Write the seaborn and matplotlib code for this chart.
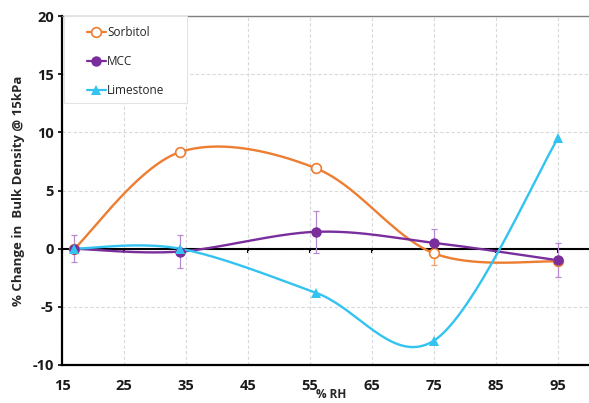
import numpy as np
import pandas as pd
import matplotlib
matplotlib.use("Agg")
import matplotlib.pyplot as plt
from matplotlib.patches import Rectangle
import seaborn as sns

# ---- data ----
rh = [17, 34, 56, 75, 95]
sorbitol = [0.0, 8.3, 6.9, -0.4, -1.1]
sorbitol_err = [0.0, 0.0, 0.0, 1.0, 0.3]
mcc = [0.0, -0.25, 1.45, 0.5, -1.0]
mcc_err = [1.15, 1.4, 1.8, 1.2, 1.45]
limestone = [0.0, 0.0, -3.8, -7.9, 9.5]
limestone_err = [0.0, 0.0, 0.0, 0.0, 0.0]
series_names = ["Sorbitol", "MCC", "Limestone"]
xticks = [15, 25, 35, 45, 55, 65, 75, 85, 95]
yticks = [-10, -5, 0, 5, 10, 15, 20]

colors = {"Sorbitol": "#ED7D31", "MCC": "#7A2E9C", "Limestone": "#33C3F0"}
errcolors = {"Sorbitol": "#F0A070", "MCC": "#B58AD0", "Limestone": "#33C3F0"}


def excel_smooth(x, y, n=40):
    pts = np.column_stack([x, y]).astype(float)
    P = np.vstack([pts[0], pts, pts[-1]])
    segs = []
    for i in range(1, len(P) - 2):
        p0, p1, p2, p3 = P[i - 1], P[i], P[i + 1], P[i + 2]
        c1 = p1 + (p2 - p0) / 6.0
        c2 = p2 - (p3 - p1) / 6.0
        t = np.linspace(0, 1, n)[:, None]
        seg = (1 - t) ** 3 * p1 + 3 * (1 - t) ** 2 * t * c1 + 3 * (1 - t) * t ** 2 * c2 + t ** 3 * p2
        segs.append(seg if i == 1 else seg[1:])
    s = np.vstack(segs)
    return s[:, 0], s[:, 1]


sns.set_theme(style="white")
plt.rcParams["font.family"] = ["Open Sans", "DejaVu Sans"]
plt.rcParams["axes.unicode_minus"] = False

fig = plt.figure(figsize=(5.89, 4.03), dpi=100)
ax = fig.add_axes([62 / 589, 1 - 365 / 403, 1 - 62 / 589, (365 - 16) / 403])

ax.set_xlim(15, 100)
ax.set_ylim(-10, 20)
ax.set_xticks(xticks)
ax.set_yticks(yticks)
ax.grid(True, color="#D9D9D9", linestyle=(0, (3, 2)), linewidth=0.8)
ax.set_axisbelow(True)

data = {
    "Sorbitol": (sorbitol, sorbitol_err, dict(marker="o", mfc="white", ms=7, mew=1.2)),
    "MCC": (mcc, mcc_err, dict(marker="o", ms=7.5, mew=0)),
    "Limestone": (limestone, limestone_err, dict(marker="^", ms=7.5, mew=0)),
}

# zero line with downward ticks
ax.axhline(0, color="black", lw=1.5, zorder=2)
sec = ax.secondary_xaxis(1 / 3)
sec.set_xticks(xticks)
sec.tick_params(axis="x", direction="out", length=3, width=1.5, labelbottom=False, color="black")
sec.spines["bottom"].set_visible(False)
sec.set_xticklabels([])

handles = []
for name in series_names:
    vals, errs, mk = data[name]
    sx, sy = excel_smooth(rh, vals)
    df = pd.DataFrame({"x": sx, "y": sy})
    sns.lineplot(data=df, x="x", y="y", ax=ax, sort=False, estimator=None,
                 color=colors[name], lw=1.7, zorder=3)
    if any(e > 0 for e in errs):
        ax.errorbar(rh, vals, yerr=errs, fmt="none", ecolor=errcolors[name],
                    elinewidth=0.9, capsize=2.5, capthick=0.9, zorder=3)
    ax.plot(rh, vals, linestyle="none", color=colors[name], mec=colors[name], zorder=4, **mk)
    h, = ax.plot([], [], color=colors[name], lw=1.6, mec=colors[name], **mk)
    h.set_label(name)
    handles.append(h)

for s in ["left", "bottom"]:
    ax.spines[s].set_color("black")
    ax.spines[s].set_linewidth(1.6)
ax.spines["top"].set_color("#7F7F7F")
ax.spines["top"].set_linewidth(1.0)
ax.spines["right"].set_visible(False)

ax.tick_params(axis="y", direction="out", length=3, width=1.2, color="black",
               labelsize=10.5, pad=3, left=True)
ax.tick_params(axis="x", length=0, labelsize=10.5, pad=10)
for lab in ax.get_xticklabels() + ax.get_yticklabels():
    lab.set_fontweight("bold")
    lab.set_color("#1a1a1a")

ax.set_xlabel("% RH", fontsize=8.5, fontweight="bold", labelpad=0)
ax.xaxis.set_label_coords(0.51, -0.066)
ax.set_ylabel("% Change in  Bulk Density @ 15kPa", fontsize=9.5, fontweight="bold", labelpad=5)

# legend box
box = Rectangle((2 / 527, 1 - 87 / 349), 123 / 527, 87 / 349, transform=ax.transAxes,
                facecolor="white", edgecolor="#E3E3E3", lw=0.8, zorder=5)
ax.add_patch(box)
leg = ax.legend(handles=handles, loc="upper left", bbox_to_anchor=(19 / 527, 1 - 4 / 349),
                frameon=False, fontsize=8.5, handlelength=1.6,
                handletextpad=0.1, labelspacing=1.35, borderpad=0.5, borderaxespad=0.0)
leg.set_zorder(6)

fig.savefig("out.png", dpi=100)
